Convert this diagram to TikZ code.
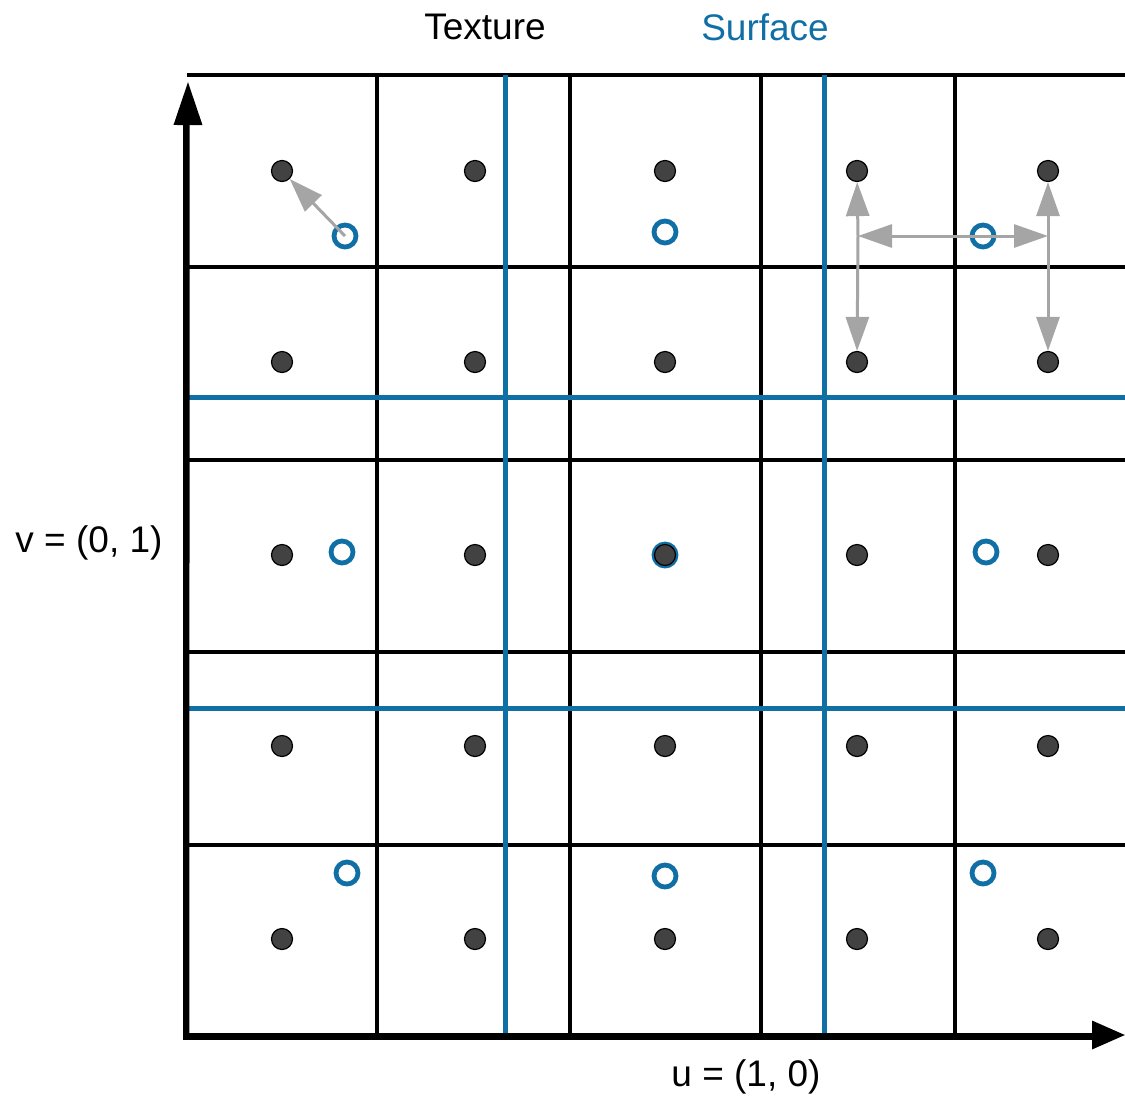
\documentclass[tikz,border=0pt]{standalone}
\usepackage{fontspec}
\setmainfont{Liberation Sans}
\usetikzlibrary{arrows.meta}
\definecolor{surf}{RGB}{16,112,166}
\definecolor{dotc}{RGB}{66,66,66}
\definecolor{arr}{RGB}{165,165,165}
\definecolor{shade}{RGB}{140,140,140}
\tikzset{
  gridline/.style={line width=3.8pt, black},
  surfline/.style={line width=5pt, surf},
  dotn/.style={circle, fill=dotc, draw=black, line width=1.2pt, minimum size=21pt, inner sep=0pt},
  ringn/.style={circle, draw=surf, line width=4.8pt, minimum size=22pt, inner sep=0pt},
  garrow/.style={arr, line width=3pt, -{Triangle[length=34pt,width=23pt]}},
  lbl/.style={font=\fontsize{37}{42}\selectfont, inner sep=0pt},
}
\begin{document}
\begin{tikzpicture}[x=1pt,y=-1pt]
\useasboundingbox (0,0) rectangle (1125,1096);
% black grid
\draw[gridline] (187,75) -- (1125,75);
\foreach \y in {267,460,652,845} \draw[gridline] (187,\y) -- (1125,\y);
\foreach \x in {377,570,761,955} \draw[gridline] (\x,75) -- (\x,1035);
% surface lines
\foreach \x in {505,824} \draw[surfline] (\x,75) -- (\x,1040);
\foreach \y in {397,708} \draw[surfline] (187,\y) -- (1125,\y);
% axes
\coordinate (O) at (188,1035);
\coordinate (Ytop) at (188,82);
\coordinate (Xend) at (1125,1035);
\draw[shade, line width=3pt] (184.5,1038) -- (184.5,125);
\draw[shade, line width=3pt] (183,1038.5) -- (1095,1038.5);
\draw[line width=3.5pt, -{Triangle[length=43pt,width=28pt]}] (187.5,1036.5) -- (Ytop);
\draw[line width=3.5pt, -{Triangle[length=33pt,width=28pt]}] (185.8,1035) -- (Xend);
% rings
\node[ringn] (c1) at (345,236) {};
\node[ringn] (c2) at (665,232) {};
\node[ringn] (c3) at (983,236) {};
\node[ringn] (c4) at (342,552) {};
\node[ringn] (c5) at (665,555) {};
\node[ringn] (c6) at (986,552) {};
\node[ringn] (c7) at (347,873) {};
\node[ringn] (c8) at (665,876) {};
\node[ringn] (c9) at (983,873) {};
% dots
\foreach \i/\x in {1/282,2/475,3/665,4/857,5/1048}
  \foreach \j/\y in {1/171,2/362,3/555,4/746,5/939}
    \node[dotn] (d\i\j) at (\x,\y) {};
% gray arrows
\coordinate (hl) at (858,236);
\coordinate (hr) at (1048,236);
\draw[garrow] (c1.center) -- (d11);
\draw[garrow] (c3.center) -- (hl);
\draw[garrow] (c3.center) -- (hr);
\draw[garrow] (hl) -- (d41);
\draw[garrow] (hl) -- (d42);
\draw[garrow] (hr) -- (d51);
\draw[garrow] (hr) -- (d52);
% labels
\node[lbl] (tex) at (485,27) {Texture};
\node[lbl, text=surf] (sur) at (765,27) {Surface};
\node[lbl] (vlab) at (89,543) {v = (0, 1)};
\node[lbl] (ulab) at (746,1077) {u = (1, 0)};
\end{tikzpicture}
\end{document}
